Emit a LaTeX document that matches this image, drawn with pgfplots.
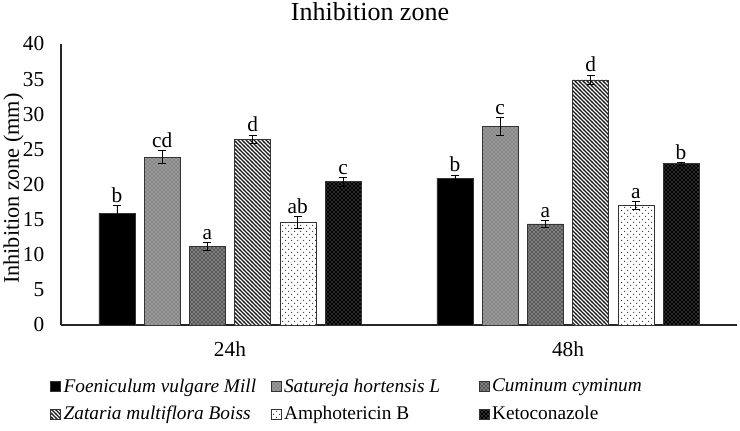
\documentclass[border=0pt]{standalone}
\usepackage{fontspec}
\setmainfont{Liberation Serif}
\usepackage{pgfplots}
\usepackage{pgfplotstable}
\pgfplotsset{compat=1.18}
\usetikzlibrary{patterns}

\pgfdeclarepatternformonly{nwthick}{\pgfqpoint{-1pt}{-1pt}}{\pgfqpoint{4pt}{4pt}}{\pgfqpoint{3pt}{3pt}}%
{\pgfsetlinewidth{0.85pt}\pgfpathmoveto{\pgfqpoint{-0.1pt}{3.1pt}}\pgfpathlineto{\pgfqpoint{3.1pt}{-0.1pt}}\pgfusepath{stroke}}
\pgfdeclarepatternformonly{sparsedots}{\pgfqpoint{-1pt}{-1pt}}{\pgfqpoint{5.5pt}{5.5pt}}{\pgfqpoint{4.5pt}{4.5pt}}%
{\pgfpathcircle{\pgfqpoint{0.5pt}{0.5pt}}{0.45pt}\pgfpathcircle{\pgfqpoint{2.75pt}{2.75pt}}{0.45pt}\pgfusepath{fill}}

\pgfplotstableread{
x y err lab
0 15.9 1.1 b
1 20.9 0.45 b
}\tA
\pgfplotstableread{
x y err lab
0 23.9 0.9 cd
1 28.3 1.25 c
}\tB
\pgfplotstableread{
x y err lab
0 11.15 0.6 a
1 14.4 0.45 a
}\tC
\pgfplotstableread{
x y err lab
0 26.45 0.6 d
1 34.9 0.7 d
}\tD
\pgfplotstableread{
x y err lab
0 14.6 0.8 ab
1 17.0 0.6 a
}\tE
\pgfplotstableread{
x y err lab
0 20.4 0.6 c
1 22.96 0.2 b
}\tF

\tikzset{
  sA/.style={fill=black, draw=black!80},
  sB/.style={fill=black!40, draw=black!80, postaction={pattern=crosshatch dots, pattern color=black!70}},
  sC/.style={fill=black!65, draw=black!80, postaction={pattern=crosshatch dots, pattern color=white}},
  sD/.style={fill=white, draw=black!80, postaction={pattern=nwthick, pattern color=black!90}},
  sE/.style={fill=white, draw=black!80, postaction={pattern=sparsedots, pattern color=black!80}},
  sF/.style={fill=black, draw=black!80, postaction={pattern=crosshatch dots, pattern color=white!75!black}},
}

\begin{document}
\begin{tikzpicture}
\useasboundingbox (-45.75pt,-78.75pt) rectangle (509.25pt,243.75pt);
\begin{axis}[
  at={(0,0)}, anchor=south west,
  scale only axis, width=507pt, height=210.75pt,
  ybar=6.9pt, bar width=27pt,
  xmin=-0.5, xmax=1.5, ymin=0, ymax=40,
  xtick={0,1}, xticklabels={24h,48h},
  ytick={0,5,...,40},
  axis x line*=bottom, axis y line*=left,
  axis line style={-, black!85, line width=0.8pt},
  major tick length=0pt,
  /pgf/number format/assume math mode=true,
  tick label style={font=\fontsize{16}{18}\selectfont},
  yticklabel style={xshift=-9pt},
  xticklabel style={yshift=-9pt},
  ylabel={Inhibition zone (mm)},
  ylabel style={at={(axis description cs:0,0.485)}, anchor=center, yshift=35.6pt, font=\fontsize{16.7}{18}\selectfont},
  title={Inhibition zone},
  title style={at={(axis description cs:0.5,1)}, anchor=base, yshift=11.8pt, xshift=-21.75pt, font=\fontsize{19.5}{22}\selectfont},
  nodes near coords,
  point meta=explicit symbolic,
  visualization depends on={\thisrow{err} \as \myerr},
  every node near coord/.append style={shift={(axis direction cs:0,\myerr)}, font=\fontsize{16}{18}\selectfont, text=black, inner sep=2pt, anchor=south},
  error bars/y dir=both, error bars/y explicit,
  error bars/error bar style={black, line width=0.6pt},
  error bars/error mark options={black, line width=0.6pt, mark size=3pt, rotate=90},
  legend image code/.code={\draw[#1] (0pt,-3.75pt) rectangle (7.5pt,3.75pt);},
  legend cell align=left,
  legend columns=3,
  legend style={at={(-0.016,-0.181)}, anchor=north west, draw=none, fill=none, inner sep=0pt,
    font=\fontsize{14.5}{16}\selectfont, row sep=5pt,
    /tikz/column 2/.style={column sep=9pt},
    /tikz/column 4/.style={column sep=27pt}},
]
\addplot[sA] table[x=x, y=y, y error=err, meta=lab] {\tA};
\addplot[sB] table[x=x, y=y, y error=err, meta=lab] {\tB};
\addplot[sC] table[x=x, y=y, y error=err, meta=lab] {\tC};
\addplot[sD] table[x=x, y=y, y error=err, meta=lab] {\tD};
\addplot[sE] table[x=x, y=y, y error=err, meta=lab] {\tE};
\addplot[sF] table[x=x, y=y, y error=err, meta=lab] {\tF};
\legend{\textit{Foeniculum vulgare Mill}, \textit{Satureja hortensis L}, \textit{Cuminum cyminum}, \textit{Zataria multiflora Boiss}, Amphotericin B, Ketoconazole}
\end{axis}
\end{tikzpicture}
\end{document}
